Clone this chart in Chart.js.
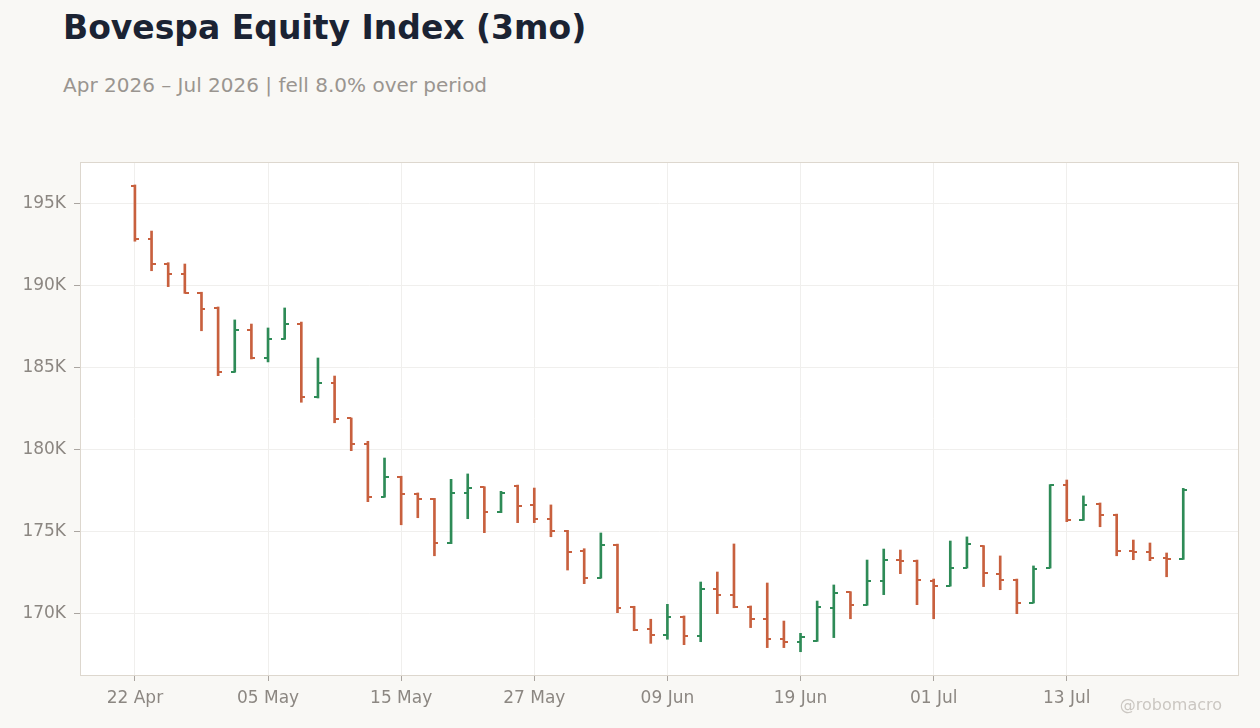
<!DOCTYPE html>
<html lang="en">
<head>
<meta charset="UTF-8">
<title>Bovespa Equity Index (3mo)</title>
<script src="https://cdn.jsdelivr.net/npm/chart.js"></script>
<style>
    body {
        margin: 0;
        background: #f9f8f5;
        font-family: 'DejaVu Sans', sans-serif;
    }
    .wrap {
        position: relative;
        width: 1260px;
        height: 728px;
    }
    #title {
        position: absolute;
        left: 63px;
        top: 11px;
        font-size: 33px;
        line-height: 33px;
        font-weight: bold;
        color: #1b2333;
        white-space: nowrap;
    }
    #subtitle {
        position: absolute;
        left: 63px;
        top: 75px;
        font-size: 20px;
        line-height: 20px;
        color: #9a9590;
        white-space: nowrap;
    }
    #credit {
        position: absolute;
        right: 38px;
        top: 697px;
        font-size: 16px;
        line-height: 16px;
        color: #cbc7c2;
    }
    #chart {
        position: absolute;
        left: 0;
        top: 0;
    }
</style>
</head>
<body>
<div class="wrap">
    <div id="title">Bovespa Equity Index (3mo)</div>
    <div id="subtitle">Apr 2026 – Jul 2026 | fell 8.0% over period</div>
    <canvas id="chart" width="1260" height="728"></canvas>
    <div id="credit">@robomacro</div>
</div>

<script>
// trading days (index points in thousands)
const dates = [
    '22 Apr', '23 Apr', '24 Apr', '27 Apr', '28 Apr', '29 Apr', '30 Apr',
    '04 May', '05 May', '06 May', '07 May', '08 May', '11 May', '12 May', '13 May', '14 May',
    '15 May', '18 May', '19 May', '20 May', '21 May', '22 May', '25 May', '26 May',
    '27 May', '28 May', '29 May', '01 Jun', '02 Jun', '03 Jun', '05 Jun', '08 Jun',
    '09 Jun', '10 Jun', '11 Jun', '12 Jun', '15 Jun', '16 Jun', '17 Jun', '18 Jun',
    '19 Jun', '22 Jun', '23 Jun', '24 Jun', '25 Jun', '26 Jun', '29 Jun', '30 Jun',
    '01 Jul', '02 Jul', '03 Jul', '06 Jul', '07 Jul', '08 Jul', '09 Jul', '10 Jul',
    '13 Jul', '14 Jul', '15 Jul', '16 Jul', '17 Jul', '20 Jul', '21 Jul', '22 Jul'
];

const openK = [
    196.10, 192.87, 191.36, 190.73, 189.60, 188.68, 184.76, 187.32,
    185.61, 186.77, 187.70, 183.23, 184.10, 181.93, 180.37, 177.13,
    178.37, 177.34, 177.01, 174.33, 177.40, 177.72, 176.22, 177.82,
    176.66, 175.79, 175.08, 173.86, 172.21, 174.22, 170.41, 169.09,
    168.74, 169.84, 168.66, 171.54, 171.18, 170.45, 169.70, 168.50,
    168.29, 168.35, 170.37, 171.32, 170.55, 172.03, 173.31, 173.25,
    172.03, 171.73, 172.82, 174.13, 172.46, 172.09, 170.69, 172.82,
    177.89, 175.73, 176.73, 176.05, 173.86, 173.76, 173.41, 173.35
];

const highK = [
    196.16, 193.35, 191.42, 191.34, 189.62, 188.72, 187.93, 187.68,
    187.44, 188.66, 187.80, 185.61, 184.51, 181.95, 180.53, 179.51,
    178.40, 177.38, 177.05, 178.21, 178.54, 177.76, 177.48, 177.86,
    177.68, 176.65, 175.10, 173.98, 174.94, 174.26, 170.47, 169.68,
    170.59, 169.88, 171.95, 172.56, 174.27, 170.49, 171.89, 169.57,
    168.82, 170.79, 171.77, 171.36, 173.29, 173.96, 173.90, 173.29,
    172.13, 174.45, 174.70, 174.17, 173.54, 172.13, 172.93, 177.89,
    178.17, 177.20, 176.77, 176.09, 174.51, 174.33, 173.72, 177.66
];

const lowK = [
    192.73, 190.93, 189.96, 189.55, 187.27, 184.53, 184.74, 185.55,
    185.37, 186.75, 182.91, 183.17, 181.66, 179.96, 176.85, 177.12,
    175.44, 175.87, 173.55, 174.29, 175.81, 174.96, 176.18, 175.57,
    175.57, 174.71, 172.68, 171.85, 172.18, 170.08, 168.98, 168.21,
    168.46, 168.13, 168.31, 170.02, 170.38, 169.17, 167.95, 167.95,
    167.70, 168.33, 168.56, 169.71, 170.53, 171.18, 172.46, 170.57,
    169.71, 171.70, 172.80, 171.67, 171.48, 170.02, 170.67, 172.80,
    175.63, 175.71, 175.32, 173.55, 173.31, 173.25, 172.27, 173.33
];

const closeK = [
    192.87, 191.34, 190.73, 189.57, 188.60, 184.77, 187.32, 185.61,
    186.77, 187.68, 183.23, 184.10, 181.91, 180.37, 177.13, 178.37,
    177.32, 177.01, 174.33, 177.40, 177.70, 176.22, 177.40, 176.60,
    175.79, 175.06, 173.80, 172.21, 174.21, 170.38, 169.02, 168.74,
    169.84, 168.66, 171.52, 171.16, 170.41, 169.70, 168.50, 168.29,
    168.60, 170.45, 171.30, 170.55, 172.03, 173.31, 173.25, 172.07,
    171.73, 172.82, 174.29, 172.52, 172.07, 170.69, 172.74, 177.87,
    175.73, 176.66, 176.05, 173.84, 173.76, 173.41, 173.37, 177.56
];

const yTicksK = [170, 175, 180, 185, 190, 195];
const xTickIdx = [0, 8, 16, 24, 32, 40, 48, 56];

const UP = '#2e8b57';
const DOWN = '#c8603e';
const barColors = closeK.map((c, i) => c >= openK[i] ? UP : DOWN);

// small canvas used as point style: open tick on the left, close tick on the right
function tickMark(color, side) {
    const c = document.createElement('canvas');
    c.width = 8;
    c.height = 2;
    const g = c.getContext('2d');
    g.fillStyle = color;
    g.fillRect(side === 'left' ? 0 : 4, 0, 4, 2);
    return c;
}
const marks = {
    left: { [UP]: tickMark(UP, 'left'), [DOWN]: tickMark(DOWN, 'left') },
    right: { [UP]: tickMark(UP, 'right'), [DOWN]: tickMark(DOWN, 'right') }
};

const plotFrame = {
    id: 'plotFrame',
    beforeDraw(chart) {
        const a = chart.chartArea, ctx = chart.ctx;
        ctx.save();
        ctx.fillStyle = '#ffffff';
        ctx.fillRect(a.left, a.top, a.right - a.left, a.bottom - a.top);
        ctx.restore();
    },
    afterDraw(chart) {
        const a = chart.chartArea, ctx = chart.ctx;
        ctx.save();
        ctx.strokeStyle = '#ddd7ce';
        ctx.lineWidth = 1;
        ctx.strokeRect(a.left + 0.5, a.top + 0.5, a.right - a.left - 1, a.bottom - a.top);
        ctx.restore();
    }
};

Chart.defaults.font.family = "'DejaVu Sans', sans-serif";
Chart.defaults.color = '#8c8782';

new Chart(document.getElementById('chart'), {
    type: 'bar',
    data: {
        datasets: [
            {
                type: 'bar',
                data: dates.map((d, i) => ({ x: i, y: [lowK[i], highK[i]] })),
                backgroundColor: barColors,
                borderWidth: 0,
                barThickness: 2,
                order: 2
            },
            {
                type: 'scatter',
                data: dates.map((d, i) => ({ x: i, y: openK[i] })),
                pointStyle: barColors.map(c => marks.left[c]),
                order: 1
            },
            {
                type: 'scatter',
                data: dates.map((d, i) => ({ x: i, y: closeK[i] })),
                pointStyle: barColors.map(c => marks.right[c]),
                order: 1
            }
        ]
    },
    options: {
        responsive: false,
        animation: false,
        events: [],
        layout: { padding: { top: 162, right: 21, left: 0, bottom: 0 } },
        plugins: {
            legend: { display: false },
            tooltip: { enabled: false }
        },
        scales: {
            x: {
                type: 'linear',
                min: -3.3,
                max: 66.35,
                offset: false,
                grid: { offset: false, color: '#f0efed', tickColor: '#aaa5a0', tickLength: 6 },
                border: { display: false },
                afterBuildTicks: s => { s.ticks = xTickIdx.map(v => ({ value: v })); },
                afterFit: s => { s.height = 53; },
                ticks: {
                    font: { size: 17 },
                    padding: 7,
                    maxRotation: 0,
                    autoSkip: false,
                    callback: v => dates[v]
                }
            },
            y: {
                min: 166.28,
                max: 197.56,
                grid: { color: '#f0efed', tickColor: '#aaa5a0', tickLength: 6 },
                border: { display: false },
                afterBuildTicks: s => { s.ticks = yTicksK.map(v => ({ value: v })); },
                afterFit: s => { s.width = 80; },
                ticks: {
                    font: { size: 17 },
                    padding: 8,
                    callback: v => v + 'K'
                }
            }
        }
    },
    plugins: [plotFrame]
});
</script>
</body>
</html>
